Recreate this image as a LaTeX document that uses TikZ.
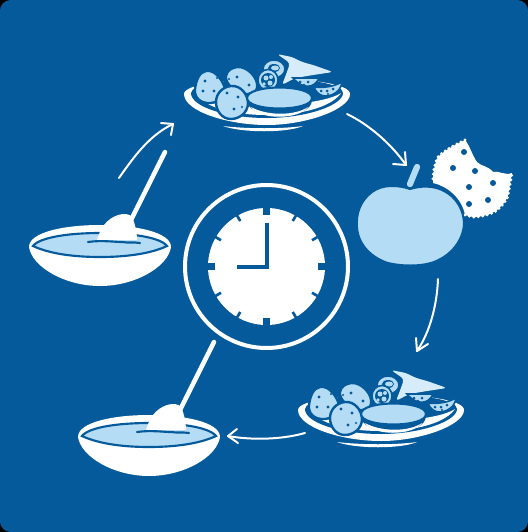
\documentclass[tikz,border=0pt]{standalone}
\definecolor{bg}{HTML}{045A9A}
\definecolor{lb}{HTML}{B5DCF5}
\definecolor{lw}{HTML}{D6ECFA}
\tikzset{
  arrowline/.style={draw=white,line width=1.5pt,line cap=round,line join=round},
  handle/.style={draw=white,line width=3.4pt,line cap=round},
  potato/.style={fill=lb,draw=bg,line width=1.8pt},
  veg/.style={fill=lb,draw=bg,line width=1.2pt},
}
\newcommand{\plateicon}[2]{%
\begin{scope}[shift={(#1,#2)}]
  % plate
  \fill[white] (-83,-3) .. controls (-83,-22) and (83,-24) .. (83,-3) .. controls (83,12) and (40,28) .. (0,28) .. controls (-40,28) and (-83,14) .. (-83,-3) -- cycle;
  \fill[bg] (-76,-4) .. controls (-76,-22) and (76,-24) .. (76,-4) .. controls (76,8) and (40,21) .. (0,21) .. controls (-40,21) and (-76,10) .. (-76,-4) -- cycle;
  \fill[white] (-70,-4) .. controls (-55,12) and (50,12) .. (74,-4) .. controls (66,8) and (40,18) .. (0,18) .. controls (-40,18) and (-66,8) .. (-70,-4) -- cycle;
  \fill[white] (-44,29) .. controls (-20,32) and (15,32) .. (36,29) .. controls (20,36) and (-25,36) .. (-44,29) -- cycle;
  % lettuce
  \fill[lw,rounded corners=2.5pt] (10,-43) -- (25,-40) -- (35,-35) -- (46,-32) -- (66,-25) -- (46,-22) -- (28,-19) -- (15,-12) -- (20,-25) -- (23,-34) -- cycle;
  % cucumber slices
  \fill[veg] (7,-28) circle[x radius=11,y radius=9];
  \fill[bg] (7,-29) circle[x radius=6,y radius=4];
  \fill[lb] (8,-29) circle[x radius=4,y radius=2.5];
  \fill[veg] (1,-17) circle[x radius=10,y radius=10.5];
  \fill[bg] (1,-17) circle[x radius=7,y radius=7];
  \fill[lb] (-1,-19) circle(2.5) (4,-20) circle(2) (3,-14) circle(2.5) (-3,-13) circle(1.8);
  % tomato wedges
  \fill[veg] (26,-19) -- (52,-19) .. controls (48,-9) and (36,-7) .. (26,-19) -- cycle;
  \fill[bg] (33,-15) circle(1.5) (41,-15) circle(1.5) (37,-12) circle(1.3);
  \fill[veg] (47,-10) .. controls (56,-9) and (66,-10) .. (75,-15) .. controls (74,-6) and (66,-1) .. (58,-1) .. controls (54,-1) and (49,-4) .. (47,-10) -- cycle;
  \fill[bg] (54,-6) circle(1.5) (60,-6) circle(1.5) (66,-8) circle(1.5) (61,-3) circle(1.2);
  % potatoes
  \fill[potato] (-61,-26) .. controls (-51,-28) and (-43,-14) .. (-42,-8) .. controls (-42,0) and (-48,5) .. (-56,6) .. controls (-67,7) and (-73,0) .. (-72,-8) .. controls (-71,-16) and (-68,-25) .. (-61,-26) -- cycle;
  \fill[potato] (-30,-30) .. controls (-19,-31) and (-8,-18) .. (-10,-9) .. controls (-12,-2) and (-20,-2) .. (-26,-4) .. controls (-34,-7) and (-42,-14) .. (-41,-21) .. controls (-40,-27) and (-35,-29) .. (-30,-30) -- cycle;
  \fill[potato] (-36,-11) .. controls (-26,-12) and (-19,-2) .. (-19,6) .. controls (-19,16) and (-28,22) .. (-36,22) .. controls (-45,22) and (-51,14) .. (-51,5) .. controls (-51,-3) and (-45,-10) .. (-36,-11) -- cycle;
  \fill[bg] (-62,-16) circle(1.7) (-53,-6) circle(1.7) (-64,-6) circle(1.7) (-50,-19) circle(1.2) (-30,-20) circle(1.7) (-18,-12) circle(1.7) (-38,-18) circle(1.2) (-40,-4) circle(1.7) (-29,0) circle(1.7) (-33,12) circle(1.7) (-25,10) circle(1.2);
  % patty
  \fill[bg] (-20,3) .. controls (-20,24) and (45,24) .. (45,3) -- cycle;
  \fill[white] (-16,10) .. controls (0,19) and (28,19) .. (41,10) .. controls (32,23) and (-8,23) .. (-16,10) -- cycle;
  \fill[lb,draw=bg,line width=1.6pt] (-20,1) .. controls (-20,-13) and (45,-13) .. (45,1) .. controls (45,15) and (-20,15) .. (-20,1) -- cycle;
\end{scope}}
\newcommand{\bowlicon}[2]{%
\begin{scope}[shift={(#1,#2)}]
  % spoon handle
  \draw[handle] (65,-95) -- (30,-25);
  % body with rim
  \fill[white] (-71,0) .. controls (-71,-15) and (-35,-22) .. (0,-22) .. controls (35,-22) and (71,-15) .. (71,0) .. controls (68,20) and (35,39) .. (0,39) .. controls (-35,39) and (-68,20) .. (-71,0) -- cycle;
  % liquid
  \fill[lb,draw=bg,line width=1.6pt] (-67,-1) .. controls (-60,-10) and (-30,-14) .. (0,-14) .. controls (30,-14) and (60,-10) .. (67,-1) .. controls (50,7) and (25,10) .. (0,10) .. controls (-25,10) and (-50,7) .. (-67,-1) -- cycle;
  % spoon bowl
  \fill[white] (-3,-7) .. controls (0,-18) and (6,-28) .. (18,-32) .. controls (24,-34) and (30,-33) .. (32,-30) .. controls (35,-24) and (37,-14) .. (37,-7) -- cycle;
  \draw[bg,line width=1.6pt,line cap=round] (-12,-5) .. controls (2,-7) and (14,-5) .. (22,-5) .. controls (28,-4) and (34,-5) .. (40,-4);
\end{scope}}
\begin{document}
\begin{tikzpicture}[x=0.75pt,y=-0.75pt]
\useasboundingbox (0,0) rectangle (528,532);
\fill[black] (0,0) rectangle (528,532);
\fill[bg,rounded corners=8pt] (0,0) rectangle (528,532);
\plateicon{267}{97}
\plateicon{381}{413}
\bowlicon{100}{247}
\bowlicon{149}{437}
% biscuit
\path[fill=white] (465,140) .. controls (455,145) and (445,150) .. (438,157) .. controls (434,165) and (433,175) .. (433,183) .. controls (447,186) and (462,198) .. (465,215) -- (473,217) .. controls (482,217) and (492,214) .. (497,210) .. controls (503,205) and (508,198) .. (508,195) -- (512,173) .. controls (505,176) and (498,170) .. (493,172) .. controls (487,165) and (482,167) .. (477,162) .. controls (472,155) and (470,146) .. (465,140) -- cycle;
\draw[white,line width=2.6pt,line cap=round,dash pattern=on 0pt off 3.4pt] (465,140) .. controls (455,145) and (445,150) .. (438,157) .. controls (434,165) and (433,175) .. (433,183);
\draw[white,line width=2.6pt,line cap=round,dash pattern=on 0pt off 3.4pt] (465,215) -- (473,217) .. controls (482,217) and (492,214) .. (497,210) .. controls (503,205) and (508,198) .. (508,195) -- (512,173);
\fill[bg] (464,152) circle(3) (453,168) circle(3) (475,171) circle(3) (469,187) circle(3) (493,183) circle(3) (488,200) circle(3) (469,204) circle(3);
% apple
\fill[lb,draw=bg,line width=1.5pt] (410,189) .. controls (398,185) and (383,184) .. (372,192) .. controls (360,201) and (356,214) .. (357,227) .. controls (358,245) and (372,258) .. (388,263) .. controls (400,266) and (420,267) .. (434,262) .. controls (452,255) and (463,240) .. (464,224) .. controls (464,210) and (456,197) .. (444,191) .. controls (433,185) and (420,186) .. (410,189) -- cycle;
\draw[draw=lb,line width=4.6pt,line cap=round] (410,184) -- (417,167);
% clock
\node (clockring) at (266.5,266.5) [circle,draw=white,line width=3pt,minimum size=163*0.75pt,inner sep=0pt] {};
\fill[white] (266.5,266.5) circle(58.5);
\foreach \a in {0,90,180,270} \fill[bg,rotate around={\a:(266.5,266.5)}] (263,207) rectangle (270,215);
\foreach \a in {30,60,120,150,210,240,300,330} \draw[bg,line width=2pt,rotate around={\a:(266.5,266.5)}] (266.5,207) -- (266.5,214);
\draw[bg,line width=3pt,line join=miter] (267,223) -- (267,266.5) -- (237,266.5);
% arrows
\coordinate (a1s) at (119,178); \coordinate (a1e) at (173,124);
\coordinate (a2s) at (347,114); \coordinate (a2e) at (406,165);
\coordinate (a3s) at (438,279); \coordinate (a3e) at (417,351);
\coordinate (a4s) at (305,433); \coordinate (a4e) at (228,436);
\draw[arrowline] (a1s) .. controls (135,155) and (150,135) .. (a1e);
\draw[arrowline] (161,123) -- (a1e) -- (171,135);
\draw[arrowline] (a2s) .. controls (370,125) and (392,145) .. (a2e);
\draw[arrowline] (393,164) -- (a2e) -- (405,152);
\draw[arrowline] (a3s) .. controls (437,305) and (430,332) .. (a3e);
\draw[arrowline] (416,338) -- (a3e) -- (428,344);
\draw[arrowline] (a4s) .. controls (280,440) and (250,440) .. (a4e);
\draw[arrowline] (237,429) -- (a4e) -- (238,443);
\end{tikzpicture}
\end{document}
